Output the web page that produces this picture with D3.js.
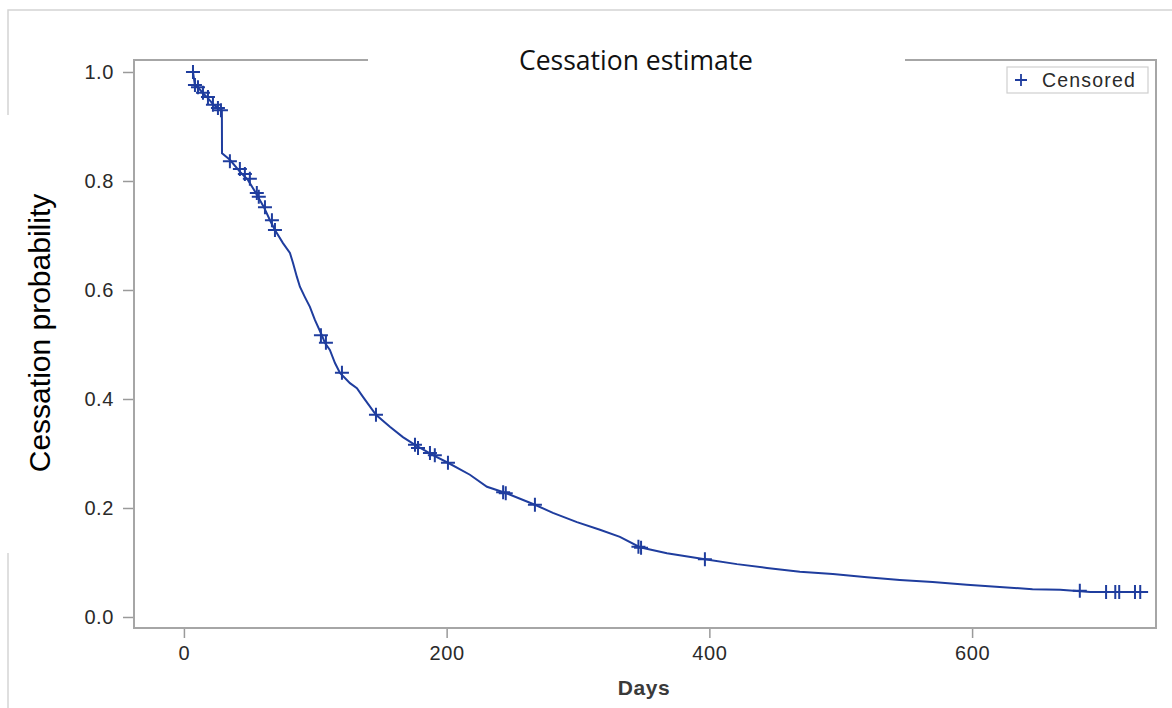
<!DOCTYPE html>
<html>
<head>
<meta charset="utf-8">
<script src="https://cdn.jsdelivr.net/npm/d3@7"></script>
<style>
  body { margin: 0; background: #fff; }
  svg { display: block; }
  .tick text { font-family: "Liberation Sans", Arial, sans-serif; font-size: 20px; fill: #2a2a2a; letter-spacing: 0.6px; }
  .tick line { stroke: #9a9a9a; stroke-width: 1.5; }
</style>
</head>
<body>
<div id="chart"></div>
<script>
// Kaplan-Meier style estimate
var eventDays = [6.9, 8.4, 10.7, 14.5, 18.3, 22.8, 26.6, 28.9, 29, 35, 43.4, 48.7, 54.8, 60.9, 65.5, 69.3,
  75.4, 80.7, 83, 86, 88.3, 92.1, 95.9, 99.7, 105, 107.3, 111.1, 115, 118.8, 126.4, 131.7, 136.3,
  146.2, 156.8, 166.7, 175.9, 189.6, 201, 217.7, 230.7, 244.4, 267.2, 280.9, 299.2, 316.7, 331.9,
  347.1, 367.7, 396.6, 421, 443.8, 468.9, 494, 520, 545, 570, 596, 621, 646, 667, 690, 734];
var survival = [1.0, 0.976, 0.972, 0.961, 0.952, 0.939, 0.934, 0.930, 0.851, 0.839, 0.815, 0.802, 0.778, 0.752, 0.728, 0.710,
  0.686, 0.668, 0.650, 0.624, 0.606, 0.587, 0.569, 0.545, 0.517, 0.503, 0.490, 0.466, 0.448, 0.429, 0.420, 0.404,
  0.371, 0.349, 0.330, 0.316, 0.297, 0.283, 0.261, 0.239, 0.228, 0.206, 0.191, 0.174, 0.160, 0.147,
  0.128, 0.117, 0.106, 0.097, 0.090, 0.083, 0.079, 0.073, 0.068, 0.064, 0.059, 0.055, 0.051, 0.050, 0.046, 0.046];

var censorDays = [6.9, 8.4, 10.7, 14.5, 18.3, 22.1, 25.9, 28.2, 35, 42.6, 46.4, 50.2, 55.5, 57, 61.7, 67, 69.3,
  104.3, 108.1, 120.3, 146.2, 175.9, 178.2, 187.3, 191, 201, 243, 245, 267.2, 346, 348, 396.6,
  682, 702, 709, 712, 724, 728];
var censorSurv = [1.0, 0.976, 0.972, 0.962, 0.954, 0.940, 0.934, 0.930, 0.836, 0.822, 0.813, 0.804, 0.778, 0.771, 0.752, 0.728, 0.710,
  0.517, 0.503, 0.448, 0.371, 0.316, 0.310, 0.301, 0.297, 0.283, 0.229, 0.227, 0.206, 0.129, 0.127, 0.106,
  0.048, 0.046, 0.046, 0.046, 0.046, 0.046];

var yTicks = [0, 0.2, 0.4, 0.6, 0.8, 1.0];
var xTicks = [0, 200, 400, 600];

var width = 1172, height = 708;
var margin = {top: 60, right: 16, bottom: 80, left: 134};
var lineColor = "#1f3d9e";

var svg = d3.select("#chart").append("svg")
    .attr("width", width)
    .attr("height", height);

var x = d3.scaleLinear()
    .domain([-38, 740])
    .range([margin.left, width - margin.right]);

var y = d3.scaleLinear()
    .domain([-0.0202, 1.022])
    .range([height - margin.bottom, margin.top]);

// outer border fragments
svg.append("path")
    .attr("d", "M8,115V10H1172")
    .attr("fill", "none")
    .attr("stroke", "#d4d4d4")
    .attr("stroke-width", 1.5);
svg.append("path")
    .attr("d", "M8,553V708")
    .attr("fill", "none")
    .attr("stroke", "#d4d4d4")
    .attr("stroke-width", 1.5);

// axes
var yAxis = d3.axisLeft(y)
    .tickValues(yTicks)
    .tickSize(10)
    .tickPadding(9)
    .tickFormat(d3.format(".1f"));

var xAxis = d3.axisBottom(x)
    .tickValues(xTicks)
    .tickSize(9)
    .tickPadding(8)
    .tickFormat(d3.format("d"));

svg.append("g")
    .attr("transform", "translate(" + (margin.left - 1) + ",0)")
    .call(yAxis)
    .call(g => g.select(".domain").remove());

svg.append("g")
    .attr("transform", "translate(0," + (height - margin.bottom + 1) + ")")
    .call(xAxis)
    .call(g => g.select(".domain").remove());

// plot frame, top edge broken by the title
var L = margin.left, R = width - margin.right, T = margin.top, B = height - margin.bottom;
svg.append("path")
    .attr("d", "M368," + T + "H" + L + "V" + B + "H" + R + "V" + T + "H905")
    .attr("fill", "none")
    .attr("stroke", "#a6a6a6")
    .attr("stroke-width", 2);

// title
svg.append("text")
    .attr("x", 636)
    .attr("y", 70)
    .attr("text-anchor", "middle")
    .attr("font-family", "'Open Sans', sans-serif")
    .attr("font-size", 26.5)
    .attr("fill", "#111")
    .text("Cessation estimate");

// axis labels
svg.append("text")
    .attr("transform", "translate(50,333) rotate(-90)")
    .attr("text-anchor", "middle")
    .attr("font-family", "'Liberation Sans', Arial, sans-serif")
    .attr("font-size", 30)
    .attr("fill", "#000")
    .text("Cessation probability");

svg.append("text")
    .attr("x", 644)
    .attr("y", 695)
    .attr("text-anchor", "middle")
    .attr("font-family", "'Liberation Sans', Arial, sans-serif")
    .attr("font-size", 21)
    .attr("font-weight", "bold")
    .attr("letter-spacing", 0.6)
    .attr("fill", "#3a3a3a")
    .text("Days");

// survival curve
var curve = eventDays.map((d, i) => [d, survival[i]]);
var line = d3.line()
    .x(d => x(d[0]))
    .y(d => y(d[1]));

svg.append("path")
    .datum(curve)
    .attr("fill", "none")
    .attr("stroke", lineColor)
    .attr("stroke-width", 2)
    .attr("d", line);

// censored marks
var cens = censorDays.map((d, i) => [d, censorSurv[i]]);
svg.append("g").selectAll("path")
    .data(cens)
    .enter().append("path")
    .attr("d", "M-7,0H7M0,-7V7")
    .attr("transform", d => "translate(" + x(d[0]) + "," + y(d[1]) + ")")
    .attr("stroke", lineColor)
    .attr("stroke-width", 2)
    .attr("fill", "none");

// legend
var lg = svg.append("g").attr("transform", "translate(1007,67)");
lg.append("rect")
    .attr("width", 141)
    .attr("height", 26)
    .attr("fill", "#fff")
    .attr("stroke", "#cfcfcf")
    .attr("stroke-width", 1.2);
lg.append("path")
    .attr("d", "M8,13H20M14,7V19")
    .attr("stroke", lineColor)
    .attr("stroke-width", 1.8);
lg.append("text")
    .attr("x", 35)
    .attr("y", 20)
    .attr("font-family", "'Liberation Sans', Arial, sans-serif")
    .attr("font-size", 19.5)
    .attr("letter-spacing", 1.2)
    .attr("fill", "#2a2a2a")
    .text("Censored");
</script>
</body>
</html>
